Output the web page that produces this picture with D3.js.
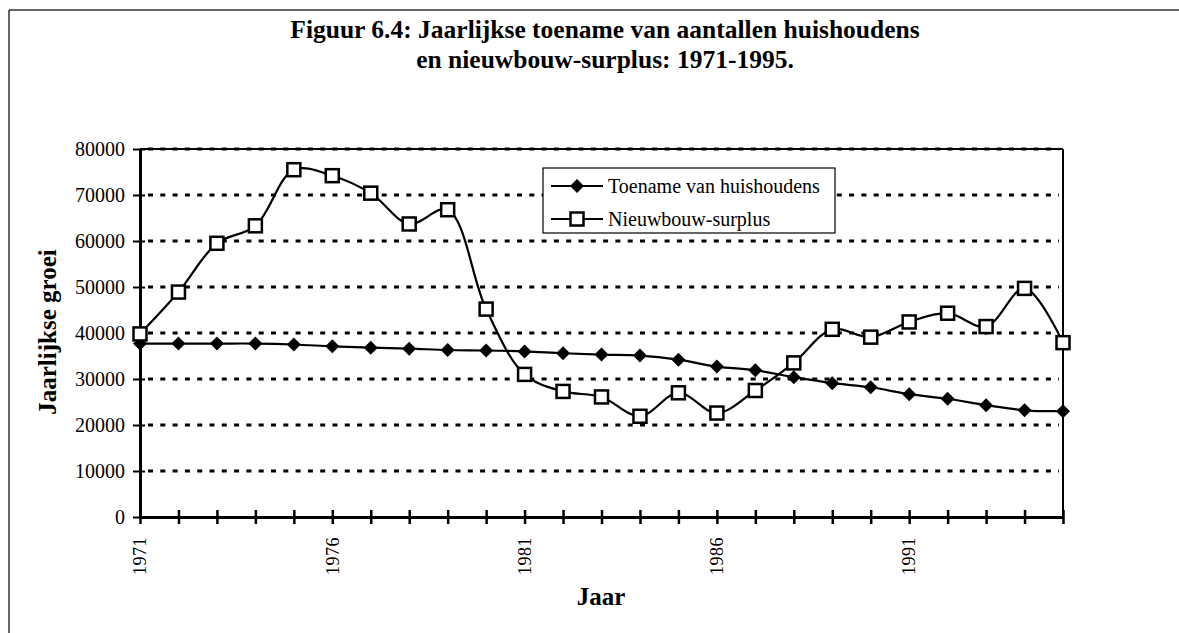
<!DOCTYPE html>
<html>
<head>
<meta charset="utf-8">
<script src="https://cdn.jsdelivr.net/npm/d3@7"></script>
<style>
  html, body { margin: 0; padding: 0; background: #fff; }
  svg { display: block; }
  text { font-family: "Liberation Serif", "Times New Roman", serif; fill: #000; }
</style>
</head>
<body>
<svg id="chart" width="1179" height="633"></svg>
<script>
const years = [1971,1972,1973,1974,1975,1976,1977,1978,1979,1980,1981,1982,1983,1984,1985,1986,1987,1988,1989,1990,1991,1992,1993,1994,1995];
const toename = [37700,37700,37700,37700,37500,37100,36800,36600,36300,36200,36000,35600,35300,35100,34200,32700,31900,30400,29100,28200,26700,25700,24300,23200,23000];
const surplus = [39800,48900,59500,63300,75500,74200,70400,63700,66800,45200,31000,27300,26100,21900,27000,22600,27500,33500,40800,39100,42400,44300,41400,49700,37900];
const xTickLabels = ["1971","1976","1981","1986","1991"];
const yTicks = [0,10000,20000,30000,40000,50000,60000,70000,80000];
const seriesNames = ["Toename van huishoudens","Nieuwbouw-surplus"];
const titleLines = ["Figuur 6.4: Jaarlijkse toename van aantallen huishoudens","en nieuwbouw-surplus: 1971-1995."];

const svg = d3.select("#chart");
const L = 140, R = 1063, T = 149, B = 517;

const x = d3.scaleLinear().domain([1971, 1995]).range([L, R]);
const y = d3.scaleLinear().domain([0, 80000]).range([B, T]);

// outer figure frame
svg.append("line").attr("x1", 9).attr("x2", 1179).attr("y1", 10).attr("y2", 10)
  .attr("stroke", "#333").attr("stroke-width", 1.5);
svg.append("line").attr("x1", 9).attr("x2", 9).attr("y1", 10).attr("y2", 633)
  .attr("stroke", "#333").attr("stroke-width", 1.5);

// title
const title = svg.append("text").attr("text-anchor", "middle")
  .style("font-weight", "bold").style("font-size", "25.5px");
titleLines.forEach((t, i) => {
  title.append("tspan").attr("x", 605).attr("y", 38 + i * 30).text(t);
});

// gridlines
svg.append("g").selectAll("line").data(yTicks.filter(d => d > 0)).join("line")
  .attr("x1", L + 8).attr("x2", R - 4)
  .attr("y1", d => y(d)).attr("y2", d => y(d))
  .attr("stroke", "#000").attr("stroke-width", 3)
  .attr("stroke-dasharray", "5,7.3");

// plot frame top and right
svg.append("line").attr("x1", L).attr("x2", R).attr("y1", T).attr("y2", T)
  .attr("stroke", "#000").attr("stroke-width", 2);
svg.append("line").attr("x1", R).attr("x2", R).attr("y1", T).attr("y2", B)
  .attr("stroke", "#000").attr("stroke-width", 2);

// y axis
const yAxis = d3.axisLeft(y).tickValues(yTicks).tickFormat(d3.format("d")).tickSize(0).tickPadding(15);
const gy = svg.append("g").attr("transform", `translate(${L},0)`).call(yAxis);
gy.select(".domain").attr("stroke", "#000").attr("stroke-width", 3);
gy.selectAll(".tick text").style("font-size", "20px");
gy.selectAll(".tick").append("line").attr("x1", -7).attr("x2", 5).attr("stroke", "#000").attr("stroke-width", 2);

// x axis
const xAxis = d3.axisBottom(x).tickValues(years).tickSize(0).tickFormat("");
const gx = svg.append("g").attr("transform", `translate(0,${B})`).call(xAxis);
gx.select(".domain").attr("stroke", "#000").attr("stroke-width", 3);
gx.selectAll(".tick").append("line").attr("y1", -7).attr("y2", 7).attr("stroke", "#000").attr("stroke-width", 2.5);

svg.append("g").selectAll("text").data(xTickLabels).join("text")
  .attr("transform", d => `translate(${x(+d)},537) rotate(-90)`)
  .attr("text-anchor", "end").attr("dy", "0.35em")
  .style("font-size", "18px").style("letter-spacing", "0.5px")
  .text(d => d);

// axis titles
svg.append("text").attr("transform", "translate(47,332) rotate(-90)")
  .attr("text-anchor", "middle").attr("dy", "0.35em")
  .style("font-weight", "bold").style("font-size", "25px").text("Jaarlijkse groei");
svg.append("text").attr("x", 601).attr("y", 605).attr("text-anchor", "middle")
  .style("font-weight", "bold").style("font-size", "25px").text("Jaar");

// lines
const line = d3.line().x(d => x(d[0])).y(d => y(d[1])).curve(d3.curveCatmullRom.alpha(0.5));
const dT = years.map((yr, i) => [yr, toename[i]]);
const dS = years.map((yr, i) => [yr, surplus[i]]);

svg.append("path").datum(dT).attr("d", line).attr("fill", "none").attr("stroke", "#000").attr("stroke-width", 2.2);
svg.append("path").datum(dS).attr("d", line).attr("fill", "none").attr("stroke", "#000").attr("stroke-width", 2.2);

const diamond = "M0,-7L7,0L0,7L-7,0Z";
svg.append("g").selectAll("path").data(dT).join("path")
  .attr("transform", d => `translate(${x(d[0])},${y(d[1])})`)
  .attr("d", diamond).attr("fill", "#000");
svg.append("g").selectAll("rect").data(dS).join("rect")
  .attr("x", d => x(d[0]) - 6.5).attr("y", d => y(d[1]) - 6.5)
  .attr("width", 13).attr("height", 13)
  .attr("fill", "#fff").attr("stroke", "#000").attr("stroke-width", 2.5);

// legend
const lg = svg.append("g");
lg.append("rect").attr("x", 543).attr("y", 168).attr("width", 292).attr("height", 65)
  .attr("fill", "#fff").attr("stroke", "#000").attr("stroke-width", 1.2);
const ly = [186, 219];
seriesNames.forEach((n, i) => {
  lg.append("line").attr("x1", 551).attr("x2", 603).attr("y1", ly[i]).attr("y2", ly[i])
    .attr("stroke", "#000").attr("stroke-width", 2.2);
  if (i === 0) {
    lg.append("path").attr("transform", `translate(577,${ly[i]})`).attr("d", diamond).attr("fill", "#000");
  } else {
    lg.append("rect").attr("x", 577 - 6.5).attr("y", ly[i] - 6.5).attr("width", 13).attr("height", 13)
      .attr("fill", "#fff").attr("stroke", "#000").attr("stroke-width", 2.5);
  }
  lg.append("text").attr("x", 608).attr("y", ly[i]).attr("dy", "0.33em")
    .style("font-size", "20px").text(n);
});
</script>
</body>
</html>
